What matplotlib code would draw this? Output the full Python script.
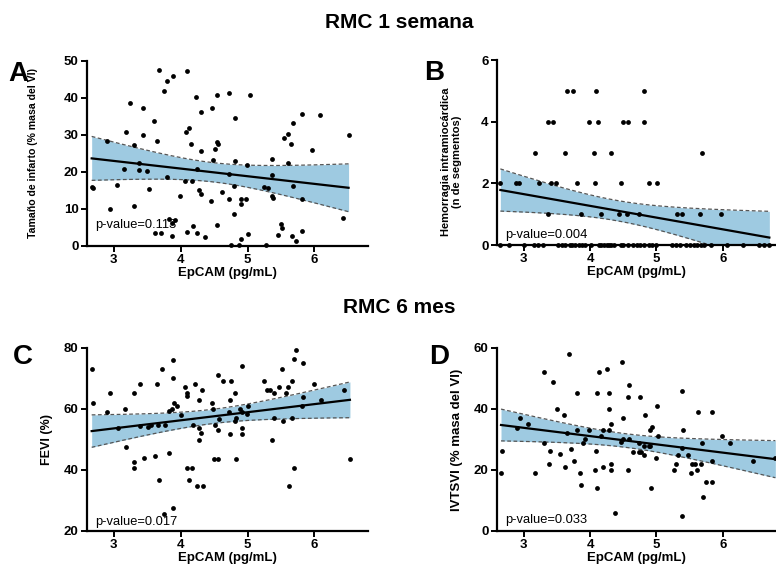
import numpy as np
import matplotlib
matplotlib.use("Agg")
import matplotlib.pyplot as plt

plt.rcParams['font.family'] = ['Liberation Sans', 'DejaVu Sans']

# ---- data ----
# A: infarct size (% LV mass) vs EpCAM
a_x = [3.68, 3.80, 3.88, 3.75, 4.09, 3.24, 3.43, 4.23, 4.55, 4.30, 4.47, 3.60, 3.18, 3.44, 4.12,
       4.08, 2.90, 3.31, 3.64, 4.15, 4.30, 4.55, 4.56, 4.51, 3.38, 3.16, 3.38, 3.50, 4.25, 2.67,
       2.69, 3.05, 3.80, 4.07, 4.17, 3.53, 4.27, 4.30, 3.99, 4.45, 2.94, 3.30, 3.83, 3.92, 3.87,
       3.62, 3.71, 3.87, 4.09, 4.19, 4.25, 4.36, 4.55, 4.72, 5.03, 4.81, 5.82, 6.08, 5.68, 5.61,
       5.55, 5.65, 6.51, 5.97, 4.49, 4.81, 4.99, 5.36, 5.60, 4.73, 5.37, 4.80, 5.24, 5.31, 5.68,
       4.62, 4.73, 4.90, 4.98, 4.90, 5.37, 5.38, 5.82, 4.80, 5.50, 5.51, 5.00, 5.46, 5.66, 5.81,
       5.73, 4.90, 4.75, 4.87, 5.28, 6.43]
a_y = [47.5, 44.5, 45.8, 41.8, 47.2, 38.5, 37.3, 40.3, 40.7, 36.2, 37.1, 33.7, 30.8, 29.9, 31.7,
       30.6, 28.3, 27.1, 28.3, 27.4, 25.7, 28.0, 27.5, 26.1, 22.3, 20.6, 20.4, 20.3, 20.6, 15.9,
       15.7, 16.4, 18.5, 17.6, 17.5, 15.2, 15.0, 14.1, 13.3, 12.1, 10.0, 10.6, 7.2, 6.9, 6.2,
       3.5, 3.5, 2.7, 3.8, 5.2, 3.5, 2.3, 5.5, 41.3, 40.7, 34.4, 35.5, 35.3, 33.2, 30.1,
       29.2, 27.6, 29.9, 25.8, 23.1, 22.9, 21.8, 23.4, 22.4, 19.3, 19.0, 16.2, 15.9, 15.7, 16.0,
       14.6, 12.6, 12.6, 12.6, 11.2, 13.3, 13.0, 12.6, 8.6, 5.9, 4.8, 3.2, 2.9, 2.7, 4.1,
       1.3, 1.8, 0.2, 0.2, 0.2, 7.6]

# B: intramyocardial haemorrhage (segments) vs EpCAM
b_x = [3.65, 3.74, 4.09, 4.82,
       3.36, 3.44, 3.99, 4.12, 4.50, 4.57, 4.81,
       3.17, 3.63, 4.06, 4.32, 5.69,
       2.65, 2.88, 2.93, 3.23, 3.42, 3.49, 3.80, 4.08, 4.47, 4.89, 5.01,
       3.37, 3.86, 4.17, 4.44, 4.56, 4.73, 5.31, 5.38, 5.65, 5.97,
       2.65, 2.78, 3.00, 3.15, 3.22, 3.29, 3.52, 3.58, 3.63, 3.70, 3.73, 3.78, 3.83, 3.88,
       3.92, 4.01, 4.13, 4.17, 4.21, 4.25, 4.28, 4.32, 4.36, 4.47, 4.50, 4.57, 4.64, 4.70,
       4.76, 4.82, 4.89, 4.94, 5.00, 5.24, 5.29, 5.36, 5.44, 5.50, 5.56, 5.61, 5.67, 5.72,
       5.82, 6.06, 6.31, 6.55, 6.62, 6.70]
b_y = [5, 5, 5, 5,
       4, 4, 4, 4, 4, 4, 4,
       3, 3, 3, 3, 3,
       2, 2, 2, 2, 2, 2, 2, 2, 2, 2, 2,
       1, 1, 1, 1, 1, 1, 1, 1, 1, 1,
       0, 0, 0, 0, 0, 0, 0, 0, 0, 0, 0, 0, 0, 0,
       0, 0, 0, 0, 0, 0, 0, 0, 0, 0, 0, 0, 0, 0,
       0, 0, 0, 0, 0, 0, 0, 0, 0, 0, 0, 0, 0, 0,
       0, 0, 0, 0, 0, 0]

# C: LVEF (%) vs EpCAM
c_x = [2.67, 2.69, 2.95, 2.90, 3.06, 3.17, 3.19, 3.31, 3.30, 3.45, 3.39, 3.31, 3.39, 3.51, 3.55,
       3.66, 3.76, 3.64, 3.61, 3.72, 3.82, 3.68, 3.83, 3.87, 3.88, 3.88, 3.90, 3.94, 4.00, 4.07,
       4.10, 4.09, 4.21, 4.27, 4.32, 4.19, 4.28, 4.30, 4.27, 4.10, 4.17, 4.13, 4.24, 4.34, 4.47,
       4.49, 4.56, 4.50, 4.56, 4.56, 3.75, 3.88, 5.73, 5.69, 5.83, 4.91, 5.51, 4.63, 4.76, 5.25,
       5.66, 5.99, 4.81, 5.29, 5.33, 5.39, 5.47, 5.61, 5.57, 6.44, 4.74, 4.88, 4.92, 4.99, 5.01,
       4.73, 4.57, 4.82, 4.81, 4.52, 4.74, 4.92, 4.91, 5.39, 5.53, 5.67, 5.83, 5.82, 6.10, 5.37,
       4.83, 6.53, 5.70, 5.62]
c_y = [73.2, 62.1, 65.1, 58.9, 53.8, 60.0, 47.4, 42.6, 40.8, 43.8, 68.2, 65.1, 54.5, 54.1, 54.9,
       54.9, 54.9, 68.2, 44.7, 73.2, 45.7, 36.7, 59.2, 59.9, 76.0, 70.2, 62.1, 61.0, 58.0, 67.1,
       65.3, 64.2, 68.1, 63.1, 66.2, 54.8, 53.7, 52.1, 49.9, 40.7, 40.7, 36.7, 34.7, 34.7, 62.1,
       60.0, 71.3, 43.7, 43.7, 53.0, 25.5, 27.6, 79.3, 76.3, 75.2, 74.2, 73.2, 69.1, 69.1, 69.1,
       69.1, 68.1, 65.1, 66.2, 66.2, 65.1, 67.1, 67.1, 65.1, 66.2, 63.1, 59.9, 59.1, 58.5, 60.9,
       59.0, 56.8, 57.0, 55.9, 54.9, 51.9, 51.9, 53.8, 56.9, 56.0, 56.9, 64.0, 61.0, 63.0, 49.9,
       43.7, 43.7, 40.7, 34.6]

# D: IVTSVI (% LV mass) vs EpCAM
d_x = [2.67, 2.66, 2.94, 2.90, 3.06, 3.17, 3.31, 3.31, 3.39, 3.38, 3.45, 3.50, 3.55, 3.61, 3.63,
       3.65, 3.69, 3.72, 3.76, 3.81, 3.81, 3.85, 3.87, 3.89, 3.92, 3.98, 4.09, 4.07, 4.11, 4.11,
       4.13, 4.17, 4.19, 4.19, 4.25, 4.28, 4.28, 4.28, 4.31, 4.31, 4.32, 4.37, 4.48, 4.50, 4.47,
       4.50, 4.58, 4.57, 4.75, 5.01, 5.38, 4.83, 4.93, 4.91, 5.02, 5.40, 5.63, 5.84, 5.99, 6.10,
       5.68, 4.58, 4.64, 4.73, 4.74, 4.77, 4.82, 4.89, 4.91, 4.82, 4.99, 5.39, 5.33, 5.48, 5.30,
       5.54, 5.58, 5.67, 5.26, 5.61, 5.52, 5.83, 4.57, 5.74, 5.84, 5.70, 4.92, 6.45, 6.79, 5.38]
d_y = [26.1, 18.9, 37.1, 33.9, 35.0, 18.9, 52.1, 29.0, 26.1, 22.0, 49.0, 40.0, 25.1, 38.0, 21.0,
       32.0, 58.0, 27.0, 23.0, 45.2, 33.0, 18.9, 15.0, 29.0, 30.0, 33.0, 26.1, 20.0, 14.0, 45.2,
       52.1, 31.1, 33.0, 21.0, 53.0, 33.0, 40.0, 45.2, 35.0, 22.1, 20.0, 6.0, 55.4, 37.1, 29.1,
       30.0, 48.0, 44.0, 44.0, 41.0, 46.0, 37.9, 34.0, 33.0, 31.0, 33.0, 39.0, 39.0, 31.0, 28.9,
       28.9, 30.0, 26.0, 28.9, 26.0, 26.0, 28.0, 28.0, 28.0, 25.0, 24.0, 27.1, 25.0, 25.0, 22.0,
       22.0, 22.0, 22.0, 20.0, 20.0, 18.9, 23.0, 20.0, 16.0, 16.0, 11.0, 14.0, 23.0, 24.0, 5.0]

x_ticks = [3, 4, 5, 6]
p_values = ["p-value=0.113", "p-value=0.004", "p-value=0.017", "p-value=0.033"]
y_labels = ["Tamaño de infarto (% masa del VI)",
            "Hemorragia intramiocárdica\n(n de segmentos)",
            "FEVI (%)",
            "IVTSVI (% masa del VI)"]
y_limits = [(0, 50), (0, 6), (20, 80), (0, 60)]
y_ticks = [[0, 10, 20, 30, 40, 50], [0, 2, 4, 6], [20, 40, 60, 80], [0, 20, 40, 60]]
letters = ["A", "B", "C", "D"]
titles = ["RMC 1 semana", "RMC 6 mes"]

band_color = "#9ecae1"


def fit_with_ci(x, y):
    x = np.asarray(x, float)
    y = np.asarray(y, float)
    n = len(x)
    slope, inter = np.polyfit(x, y, 1)
    resid = y - (slope * x + inter)
    s = np.sqrt(np.sum(resid ** 2) / (n - 2))
    t = 1.96 + 2.5 / (n - 2)  # approx. 95% t quantile
    xs = np.linspace(x.min(), x.max(), 200)
    ys = slope * xs + inter
    se = s * np.sqrt(1.0 / n + (xs - x.mean()) ** 2 / np.sum((x - x.mean()) ** 2))
    return xs, ys, ys - t * se, ys + t * se


fig = plt.figure(figsize=(7.76, 5.67), dpi=100)

positions = [[0.1121, 0.5667, 0.3621, 0.3263],
             [0.6405, 0.5679, 0.3595, 0.3257],
             [0.1121, 0.0635, 0.3621, 0.3228],
             [0.6405, 0.0635, 0.3595, 0.3228]]
label_x = [-0.175, -0.125, -0.122, -0.121]
label_y = [0.5, 0.45, 0.5, 0.5]
label_size = [7.6, 8.0, 9.0, 9.5]
ptext_y = [0.11, 0.055, 0.048, 0.06]
letter_pos = [(0.024, 0.870), (0.560, 0.872), (0.030, 0.37), (0.566, 0.37)]

datasets = [(a_x, a_y), (b_x, b_y), (c_x, c_y), (d_x, d_y)]

for i, (xd, yd) in enumerate(datasets):
    ax = fig.add_axes(positions[i])
    xs, ys, lo, hi = fit_with_ci(xd, yd)
    ax.fill_between(xs, lo, hi, color=band_color, lw=0, zorder=1)
    ax.plot(xs, lo, color="#555555", lw=0.9, ls=(0, (3, 2)), zorder=2)
    ax.plot(xs, hi, color="#555555", lw=0.9, ls=(0, (3, 2)), zorder=2)
    ax.plot(xs, ys, color="black", lw=1.6, zorder=3)
    ax.scatter(xd, yd, s=12, color="black", zorder=4, clip_on=False, linewidths=0)

    ax.set_xlim(2.6, 6.8)
    ax.set_ylim(*y_limits[i])
    ax.set_xticks(x_ticks)
    ax.set_yticks(y_ticks[i])
    for side in ["top", "right"]:
        ax.spines[side].set_visible(False)
    for side in ["left", "bottom"]:
        ax.spines[side].set_linewidth(1.6)
    ax.tick_params(direction="out", length=4, width=1.4, labelsize=9.5, pad=2)
    for lab in ax.get_xticklabels() + ax.get_yticklabels():
        lab.set_fontweight("bold")

    ax.set_xlabel("EpCAM (pg/mL)", fontsize=9.5, fontweight="bold", labelpad=0.5)
    ax.set_ylabel(y_labels[i], fontsize=label_size[i], fontweight="bold", linespacing=1.1)
    ax.yaxis.set_label_coords(label_x[i], label_y[i])

    ax.text(0.028, ptext_y[i], p_values[i], transform=ax.transAxes,
            fontsize=9.3, va="center", ha="left", zorder=5)

    fig.text(letter_pos[i][0], letter_pos[i][1], letters[i], fontsize=20,
             fontweight="bold", ha="center", va="center")

fig.text(0.515, 0.961, titles[0], fontsize=15, fontweight="bold", ha="center", va="center")
fig.text(0.515, 0.458, titles[1], fontsize=15, fontweight="bold", ha="center", va="center")

fig.savefig("out.png", dpi=100)
